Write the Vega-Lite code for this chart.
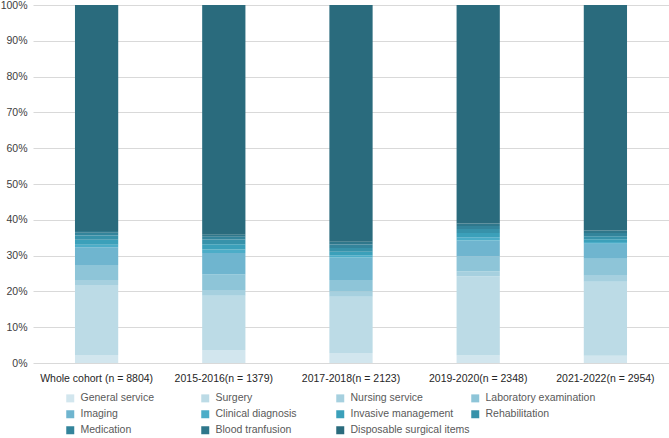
{
  "$schema": "https://vega.github.io/schema/vega-lite/v6.json",
  "width": 636,
  "height": 358,
  "padding": {"left": 0, "top": 0, "right": 0, "bottom": 0},
  "background": "white",
  "config": {
    "view": {"stroke": null},
    "font": "Liberation Sans",
    "axis": {"labelFont": "Liberation Sans", "labelFontSize": 10.5, "labelColor": "#404040"},
    "legend": {"labelFont": "Liberation Sans", "labelFontSize": 10.5, "labelColor": "#595959"}
  },
  "datasets": {
    "items": [
      {"item": "General service", "rank": 1},
      {"item": "Surgery", "rank": 2},
      {"item": "Nursing service", "rank": 3},
      {"item": "Laboratory examination", "rank": 4},
      {"item": "Imaging", "rank": 5},
      {"item": "Clinical diagnosis", "rank": 6},
      {"item": "Invasive management", "rank": 7},
      {"item": "Rehabilitation", "rank": 8},
      {"item": "Medication", "rank": 9},
      {"item": "Blood tranfusion", "rank": 10},
      {"item": "Disposable surgical items", "rank": 11}
    ]
  },
  "data": {
    "values": [
      {"cohort": "Whole cohort (n = 8804)", "item": "General service", "pct": 2.2},
      {"cohort": "Whole cohort (n = 8804)", "item": "Surgery", "pct": 19.6},
      {"cohort": "Whole cohort (n = 8804)", "item": "Nursing service", "pct": 1.4},
      {"cohort": "Whole cohort (n = 8804)", "item": "Laboratory examination", "pct": 4.2},
      {"cohort": "Whole cohort (n = 8804)", "item": "Imaging", "pct": 4.9},
      {"cohort": "Whole cohort (n = 8804)", "item": "Clinical diagnosis", "pct": 0.7},
      {"cohort": "Whole cohort (n = 8804)", "item": "Invasive management", "pct": 1.4},
      {"cohort": "Whole cohort (n = 8804)", "item": "Rehabilitation", "pct": 1.2},
      {"cohort": "Whole cohort (n = 8804)", "item": "Medication", "pct": 0.8},
      {"cohort": "Whole cohort (n = 8804)", "item": "Blood tranfusion", "pct": 0.5},
      {"cohort": "Whole cohort (n = 8804)", "item": "Disposable surgical items", "pct": 63.1},
      {"cohort": "2015-2016(n = 1379)", "item": "General service", "pct": 3.6},
      {"cohort": "2015-2016(n = 1379)", "item": "Surgery", "pct": 15.2},
      {"cohort": "2015-2016(n = 1379)", "item": "Nursing service", "pct": 1.6},
      {"cohort": "2015-2016(n = 1379)", "item": "Laboratory examination", "pct": 4.3},
      {"cohort": "2015-2016(n = 1379)", "item": "Imaging", "pct": 6.0},
      {"cohort": "2015-2016(n = 1379)", "item": "Clinical diagnosis", "pct": 1.0},
      {"cohort": "2015-2016(n = 1379)", "item": "Invasive management", "pct": 1.5},
      {"cohort": "2015-2016(n = 1379)", "item": "Rehabilitation", "pct": 1.3},
      {"cohort": "2015-2016(n = 1379)", "item": "Medication", "pct": 0.8},
      {"cohort": "2015-2016(n = 1379)", "item": "Blood tranfusion", "pct": 0.5},
      {"cohort": "2015-2016(n = 1379)", "item": "Disposable surgical items", "pct": 64.2},
      {"cohort": "2017-2018(n = 2123)", "item": "General service", "pct": 2.8},
      {"cohort": "2017-2018(n = 2123)", "item": "Surgery", "pct": 15.7},
      {"cohort": "2017-2018(n = 2123)", "item": "Nursing service", "pct": 1.5},
      {"cohort": "2017-2018(n = 2123)", "item": "Laboratory examination", "pct": 3.2},
      {"cohort": "2017-2018(n = 2123)", "item": "Imaging", "pct": 6.3},
      {"cohort": "2017-2018(n = 2123)", "item": "Clinical diagnosis", "pct": 0.6},
      {"cohort": "2017-2018(n = 2123)", "item": "Invasive management", "pct": 1.0},
      {"cohort": "2017-2018(n = 2123)", "item": "Rehabilitation", "pct": 1.0},
      {"cohort": "2017-2018(n = 2123)", "item": "Medication", "pct": 1.0},
      {"cohort": "2017-2018(n = 2123)", "item": "Blood tranfusion", "pct": 0.8},
      {"cohort": "2017-2018(n = 2123)", "item": "Disposable surgical items", "pct": 66.1},
      {"cohort": "2019-2020(n = 2348)", "item": "General service", "pct": 2.1},
      {"cohort": "2019-2020(n = 2348)", "item": "Surgery", "pct": 22.1},
      {"cohort": "2019-2020(n = 2348)", "item": "Nursing service", "pct": 1.4},
      {"cohort": "2019-2020(n = 2348)", "item": "Laboratory examination", "pct": 4.2},
      {"cohort": "2019-2020(n = 2348)", "item": "Imaging", "pct": 4.4},
      {"cohort": "2019-2020(n = 2348)", "item": "Clinical diagnosis", "pct": 0.9},
      {"cohort": "2019-2020(n = 2348)", "item": "Invasive management", "pct": 1.2},
      {"cohort": "2019-2020(n = 2348)", "item": "Rehabilitation", "pct": 1.1},
      {"cohort": "2019-2020(n = 2348)", "item": "Medication", "pct": 0.9},
      {"cohort": "2019-2020(n = 2348)", "item": "Blood tranfusion", "pct": 0.7},
      {"cohort": "2019-2020(n = 2348)", "item": "Disposable surgical items", "pct": 61.0},
      {"cohort": "2021-2022(n = 2954)", "item": "General service", "pct": 2.0},
      {"cohort": "2021-2022(n = 2954)", "item": "Surgery", "pct": 20.7},
      {"cohort": "2021-2022(n = 2954)", "item": "Nursing service", "pct": 1.7},
      {"cohort": "2021-2022(n = 2954)", "item": "Laboratory examination", "pct": 4.7},
      {"cohort": "2021-2022(n = 2954)", "item": "Imaging", "pct": 4.2},
      {"cohort": "2021-2022(n = 2954)", "item": "Clinical diagnosis", "pct": 0.5},
      {"cohort": "2021-2022(n = 2954)", "item": "Invasive management", "pct": 0.8},
      {"cohort": "2021-2022(n = 2954)", "item": "Rehabilitation", "pct": 0.8},
      {"cohort": "2021-2022(n = 2954)", "item": "Medication", "pct": 0.9},
      {"cohort": "2021-2022(n = 2954)", "item": "Blood tranfusion", "pct": 0.7},
      {"cohort": "2021-2022(n = 2954)", "item": "Disposable surgical items", "pct": 63.0}
    ]
  },
  "transform": [
    {"lookup": "item", "from": {"data": {"name": "items"}, "key": "item", "fields": ["rank"]}}
  ],
  "mark": {"type": "bar"},
  "encoding": {
    "x": {
      "field": "cohort",
      "type": "nominal",
      "sort": null,
      "scale": {"paddingInner": 0.66, "paddingOuter": 0.33},
      "axis": {"title": null, "labelAngle": 0, "ticks": false, "domain": false, "labelPadding": 10, "labelColor": "#262626"}
    },
    "y": {
      "field": "pct",
      "type": "quantitative",
      "stack": "normalize",
      "scale": {"domain": [0, 1]},
      "axis": {"title": null, "format": ".0%", "values": [0, 0.1, 0.2, 0.3, 0.4, 0.5, 0.6, 0.7, 0.8, 0.9, 1], "ticks": false, "domain": false, "labelPadding": 6, "gridColor": "#d9d9d9", "gridWidth": 1}
    },
    "order": {"field": "rank", "type": "quantitative", "sort": "ascending"},
    "color": {
      "field": "item",
      "type": "nominal",
      "sort": ["General service", "Surgery", "Nursing service", "Laboratory examination", "Imaging", "Clinical diagnosis", "Invasive management", "Rehabilitation", "Medication", "Blood tranfusion", "Disposable surgical items"],
      "scale": {
        "domain": ["General service", "Surgery", "Nursing service", "Laboratory examination", "Imaging", "Clinical diagnosis", "Invasive management", "Rehabilitation", "Medication", "Blood tranfusion", "Disposable surgical items"],
        "range": ["#d2e6ee", "#bcdbe6", "#a6d0df", "#8ec5d8", "#6fb5cf", "#4cadc8", "#3ba0ba", "#3792aa", "#33849b", "#2f778b", "#2a6b7d"]
      },
      "legend": {
        "title": null,
        "orient": "none",
        "direction": "horizontal",
        "columns": 4,
        "gridAlign": "all",
        "columnPadding": 0,
        "rowPadding": 5,
        "symbolType": "square",
        "symbolSize": 64,
        "symbolStrokeWidth": 0,
        "labelOffset": 5,
        "legendX": 32,
        "legendY": 388
      }
    }
  }
}
